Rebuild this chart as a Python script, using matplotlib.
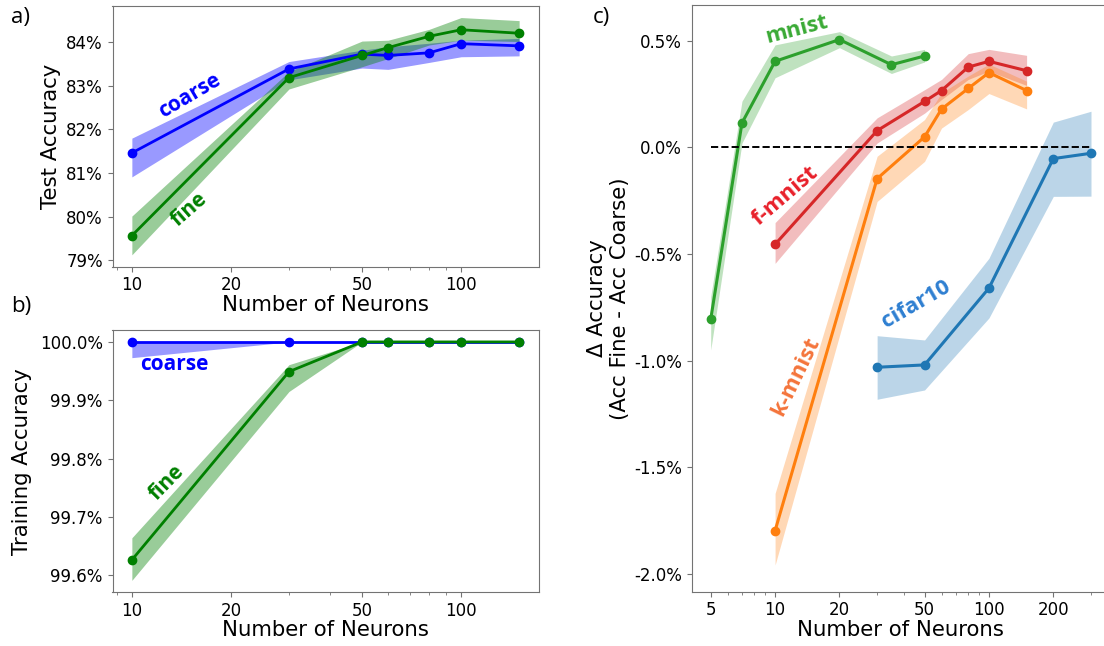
import matplotlib
matplotlib.use("Agg")
import matplotlib.pyplot as plt
import matplotlib.ticker as mticker

# ---------------- data ----------------
neurons_ab = [10, 30, 50, 60, 80, 100, 150]

test_coarse = [81.46, 83.39, 83.73, 83.70, 83.76, 83.97, 83.92]
test_coarse_lo = [80.91, 83.14, 83.41, 83.38, 83.54, 83.67, 83.69]
test_coarse_hi = [81.80, 83.56, 83.82, 83.90, 83.98, 84.05, 84.09]

test_fine = [79.56, 83.19, 83.70, 83.88, 84.14, 84.29, 84.21]
test_fine_lo = [79.12, 82.93, 83.44, 83.63, 83.94, 84.05, 84.02]
test_fine_hi = [80.01, 83.33, 84.03, 84.05, 84.30, 84.57, 84.50]

train_coarse = [100.0, 100.0, 100.0, 100.0, 100.0, 100.0, 100.0]
train_coarse_lo = [99.973, 100.0, 100.0, 100.0, 100.0, 100.0, 100.0]
train_coarse_hi = [100.0, 100.0, 100.0, 100.0, 100.0, 100.0, 100.0]

train_fine = [99.626, 99.949, 100.0, 100.0, 100.0, 100.0, 100.0]
train_fine_lo = [99.591, 99.915, 100.0, 100.0, 100.0, 100.0, 100.0]
train_fine_hi = [99.664, 99.961, 100.0, 100.0, 100.0, 100.0, 100.0]

mnist_x = [5, 7, 10, 20, 35, 50]
mnist_y = [-0.806, 0.114, 0.403, 0.505, 0.387, 0.428]
mnist_lo = [-0.95, 0.02, 0.326, 0.467, 0.346, 0.40]
mnist_hi = [-0.70, 0.216, 0.48, 0.542, 0.428, 0.459]

fmnist_x = [10, 30, 50, 60, 80, 100, 150]
fmnist_y = [-0.455, 0.078, 0.215, 0.266, 0.376, 0.403, 0.359]
fmnist_lo = [-0.544, 0.02, 0.16, 0.224, 0.318, 0.357, 0.29]
fmnist_hi = [-0.353, 0.138, 0.27, 0.318, 0.439, 0.459, 0.431]

kmnist_x = [10, 30, 50, 60, 80, 100, 150]
kmnist_y = [-1.797, -0.147, 0.049, 0.179, 0.276, 0.35, 0.266]
kmnist_lo = [-1.958, -0.254, -0.066, 0.09, 0.177, 0.252, 0.18]
kmnist_hi = [-1.622, -0.042, 0.13, 0.255, 0.334, 0.39, 0.31]

cifar_x = [30, 50, 100, 200, 300]
cifar_y = [-1.031, -1.02, -0.66, -0.053, -0.028]
cifar_lo = [-1.181, -1.1375, -0.80, -0.23, -0.229]
cifar_hi = [-0.883, -0.903, -0.52, 0.118, 0.169]

ticks_ab = [10, 20, 50, 100]
ticks_c = [5, 10, 20, 50, 100, 200]
yt_a = [79, 80, 81, 82, 83, 84]
yt_b = [99.6, 99.7, 99.8, 99.9, 100.0]
yt_c = [-2.0, -1.5, -1.0, -0.5, 0.0, 0.5]

# ---------------- figure ----------------
W, H = 1104, 646
fig = plt.figure(figsize=(W / 100, H / 100), dpi=100)

def box(l, r, t, b):
    return [l / W, 1 - b / H, (r - l) / W, (b - t) / H]

ax_a = fig.add_axes(box(112.5, 538.5, 5.7, 266.7))
ax_b = fig.add_axes(box(112.5, 538.5, 330, 592.3))
ax_c = fig.add_axes(box(691.7, 1110, 5, 591.7))

TICK_FS = 12
LAB_FS = 15.3
ANN = dict(fontfamily="Open Sans", fontweight="bold")
SPINE_C = "0.45"

def style(ax, xt):
    ax.set_xscale("log")
    ax.xaxis.set_major_locator(mticker.FixedLocator(xt))
    ax.xaxis.set_major_formatter(mticker.FixedFormatter([str(t) for t in xt]))
    ax.xaxis.set_minor_formatter(mticker.NullFormatter())
    ax.tick_params(labelsize=TICK_FS, colors="black")
    ax.tick_params(which="both", color=SPINE_C)
    for s in ax.spines.values():
        s.set_color(SPINE_C)
    ax.set_xlabel("Number of Neurons", fontsize=LAB_FS)

# ----- panel a -----
ax = ax_a
ax.fill_between(neurons_ab, test_coarse_lo, test_coarse_hi, color="blue", alpha=0.4, lw=0)
ax.fill_between(neurons_ab, test_fine_lo, test_fine_hi, color="green", alpha=0.4, lw=0)
ax.plot(neurons_ab, test_coarse, "-o", color="blue", lw=2, ms=6)
ax.plot(neurons_ab, test_fine, "-o", color="green", lw=2, ms=6)
style(ax, ticks_ab)
ax.set_yticks(yt_a)
ax.yaxis.set_major_formatter(mticker.FuncFormatter(lambda v, p: f"{v:.0f}%"))
ax.set_ylabel("Test Accuracy", fontsize=LAB_FS)
ax.yaxis.set_label_coords(-0.122, 0.5)
ax.xaxis.set_label_coords(0.5, -0.107)
ax.text(14.96, 82.76, "coarse", color="blue", rotation=30.5, ha="center", va="center", fontsize=15, **ANN)
ax.text(14.96, 80.17, "fine", color="green", rotation=41, ha="center", va="center", fontsize=15, **ANN)

# ----- panel b -----
ax = ax_b
ax.fill_between(neurons_ab, train_coarse_lo, train_coarse_hi, color="blue", alpha=0.4, lw=0)
ax.fill_between(neurons_ab, train_fine_lo, train_fine_hi, color="green", alpha=0.4, lw=0)
ax.plot(neurons_ab, train_coarse, "-o", color="blue", lw=2, ms=6)
ax.plot(neurons_ab, train_fine, "-o", color="green", lw=2, ms=6)
style(ax, ticks_ab)
ax.set_yticks(yt_b)
ax.yaxis.set_major_formatter(mticker.FuncFormatter(lambda v, p: f"{v:.1f}%"))
ax.set_ylabel("Training Accuracy", fontsize=LAB_FS)
ax.yaxis.set_label_coords(-0.19, 0.5)
ax.xaxis.set_label_coords(0.5, -0.107)
ax.text(13.43, 99.9606, "coarse", color="blue", rotation=0, ha="center", va="center", fontsize=15, **ANN)
ax.text(12.79, 99.759, "fine", color="green", rotation=45.5, ha="center", va="center", fontsize=15, **ANN)

# ----- panel c -----
ax = ax_c
series = [
    (mnist_x, mnist_y, mnist_lo, mnist_hi, "#2ca02c"),
    (fmnist_x, fmnist_y, fmnist_lo, fmnist_hi, "#d62728"),
    (kmnist_x, kmnist_y, kmnist_lo, kmnist_hi, "#ff7f0e"),
    (cifar_x, cifar_y, cifar_lo, cifar_hi, "#1f77b4"),
]
for xs, ys, lo, hi, c in series:
    ax.fill_between(xs, lo, hi, color=c, alpha=0.3, lw=0)
    ax.plot(xs, ys, "-o", color=c, lw=2.2, ms=6)
ax.hlines(0, min(mnist_x), max(cifar_x), colors="black", linestyles="--", lw=1.4)
style(ax, ticks_c)
ax.set_yticks(yt_c)
ax.yaxis.set_major_formatter(mticker.FuncFormatter(lambda v, p: f"{v:.1f}%"))
ax.set_ylabel("Δ Accuracy\n(Acc Fine - Acc Coarse)", fontsize=LAB_FS)
ax.yaxis.set_label_coords(-0.148, 0.5)
ax.xaxis.set_label_coords(0.5, -0.048)
ax.text(12.7, 0.553, "mnist", color="#3aaa35", rotation=14.5, ha="center", va="center", fontsize=16, **ANN)
ax.text(11.17, -0.230, "f-mnist", color="#e8202a", rotation=40.5, ha="center", va="center", fontsize=16, **ANN)
ax.text(12.5, -1.075, "k-mnist", color="#f4743b", rotation=64, ha="center", va="center", fontsize=16, **ANN)
ax.text(45.8, -0.738, "cifar10", color="#2e7fd1", rotation=30, ha="center", va="center", fontsize=16, **ANN)

# panel letters
fig.text(20 / W, 1 - 18 / H, "a)", fontsize=16, fontfamily="Open Sans", ha="center", va="center")
fig.text(21 / W, 1 - 307 / H, "b)", fontsize=16, fontfamily="Open Sans", ha="center", va="center")
fig.text(601 / W, 1 - 17 / H, "c)", fontsize=16, fontfamily="Open Sans", ha="center", va="center")

fig.savefig("out.png", dpi=100)
